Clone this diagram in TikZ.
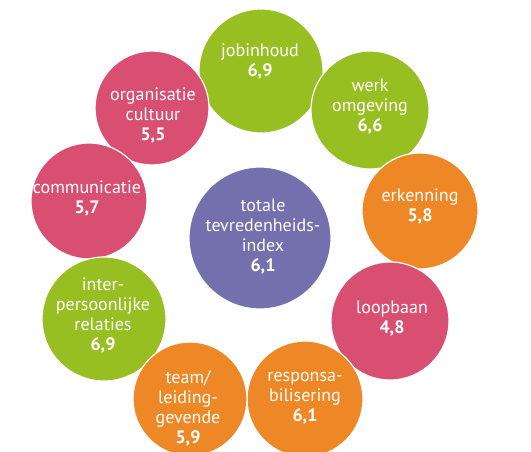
\documentclass[tikz,border=0pt]{standalone}
\usepackage{fontspec}
\setmainfont{PT Sans}
\definecolor{cgreen}{HTML}{97BF21}
\definecolor{cpink}{HTML}{D84F72}
\definecolor{corange}{HTML}{EE8826}
\definecolor{cpurple}{HTML}{746FAD}
\tikzset{
  bubble/.style={circle, draw=white, line width=1.2pt, minimum size=#1, inner sep=0pt},
  lbl/.style={text=white, align=center, font=\fontsize{18}{20}\selectfont, inner sep=0pt},
}
\newcommand{\val}[1]{\textbf{#1}}
\begin{document}
\begin{tikzpicture}[x=1pt,y=-1pt]
\useasboundingbox (0,0) rectangle (531,452);
\begin{scope}
\clip (0,0) rectangle (531,452);
\node[bubble=124pt, fill=cgreen] (job) at (261,71) {};
\node[bubble=114pt, fill=cpink] (org) at (152,108) {};
\node[bubble=118pt, fill=cgreen] (werk) at (370,110) {};
\node[bubble=116pt, fill=cpink] (comm) at (89,201) {};
\node[bubble=116pt, fill=corange] (erk) at (420,211) {};
\node[bubble=142pt, fill=cpurple] (tot) at (260,238) {};
\node[bubble=124pt, fill=cgreen] (inter) at (104,319) {};
\node[bubble=118pt, fill=cpink] (loop) at (390,321) {};
\node[bubble=116pt, fill=corange] (resp) at (305,399) {};
\node[bubble=114pt, fill=corange] (team) at (190,399) {};
\end{scope}
\node[lbl] (jobt) at (260,61) {jobinhoud\\\val{6,9}};
\node[lbl] (orgt) at (153,115) {organisatie\\cultuur\\\val{5,5}};
\node[lbl] (werkt) at (370,107) {werk\\omgeving\\\val{6,6}};
\node[lbl] (commt) at (87,198) {communicatie\\\val{5,7}};
\node[lbl] (erkt) at (420,206) {erkenning\\\val{5,8}};
\node[lbl] (tott) at (263,237) {totale\\tevredenheids-\\index\\\val{6,1}};
\node[lbl] (intert) at (103,315) {inter-\\persoonlijke\\relaties\\\val{6,9}};
\node[lbl] (loopt) at (392,319) {loopbaan\\\val{4,8}};
\node[lbl] (teamt) at (188,408) {team/\\leiding-\\gevende\\\val{5,9}};
\node[lbl] (respt) at (305,398) {responsa-\\bilisering\\\val{6,1}};
\end{tikzpicture}
\end{document}
